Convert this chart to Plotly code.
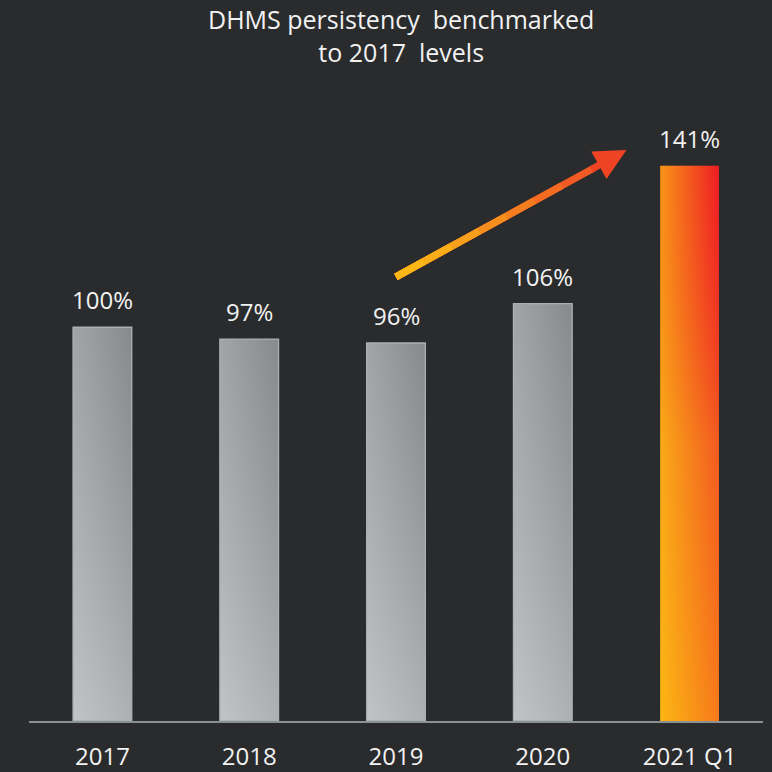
import plotly.graph_objects as go

# data
categories = ["2017", "2018", "2019", "2020", "2021 Q1"]
values = [100, 97, 96, 106, 141]
labels = ["100%", "97%", "96%", "106%", "141%"]
title = "DHMS persistency  benchmarked<br>to 2017  levels"

BG = "#2a2b2d"
TXT = "#f2f2f2"
FONT = "Open Sans, Noto Sans, sans-serif"
BAR_W = 0.4

# bars get a diagonal-looking gradient: horizontal base + vertical tinted overlay
GRAY_H = [[0, "#c0c4c5"], [1, "#878a8c"]]
GRAY_V = [[0, "rgba(192,196,197,0.67)"], [1, "rgba(135,138,140,0.53)"]]
HOT_H = [[0, "#fcb614"], [1, "#ee1c24"]]
HOT_V = [[0, "rgba(252,182,20,0.61)"], [0.5, "rgba(247,157,28,0.48)"],
         [1, "rgba(238,29,36,0.22)"]]

fig = go.Figure()

for i, (cat, v) in enumerate(zip(categories, values)):
    hot = i == len(values) - 1
    xs = [i - BAR_W / 2, i - BAR_W / 2, i + BAR_W / 2, i + BAR_W / 2, i - BAR_W / 2]
    ys = [0, v, v, 0, 0]
    fig.add_trace(go.Scatter(
        x=xs, y=ys, mode="lines", fill="toself",
        fillgradient=dict(type="horizontal", colorscale=HOT_H if hot else GRAY_H),
        line=dict(width=0),
        hoverinfo="skip", showlegend=False,
    ))
    fig.add_trace(go.Scatter(
        x=xs, y=ys, mode="lines", fill="toself",
        fillgradient=dict(type="vertical", colorscale=HOT_V if hot else GRAY_V),
        line=dict(width=0 if hot else 1.3, color="#aab0b1"),
        hoverinfo="skip", showlegend=False,
    ))
    fig.add_annotation(
        x=i, y=v, text=labels[i], showarrow=False, yanchor="bottom", yshift=9,
        font=dict(size=24, color=TXT, family=FONT),
    )

# growth arrow from 2019 towards 2021 Q1 (stepped colour ramp yellow -> red)
ax0, ay0, ax1, ay1 = 2.0, 112.8, 3.57, 145.0
dx, dy = ax1 - ax0, ay1 - ay0
ramp = [(0.86, "#f15a24"), (0.72, "#f36c21"), (0.6, "#f47d20"), (0.48, "#f68e1e"),
        (0.36, "#f89f1b"), (0.24, "#faad18"), (0.12, "#fcb615")]
for frac, col in ramp:
    fig.add_shape(
        type="line", xref="x", yref="y",
        x0=ax0, y0=ay0, x1=ax0 + dx * frac, y1=ay0 + dy * frac,
        line=dict(color=col, width=7),
    )
fig.add_annotation(
    x=ax1, y=ay1, ax=ax0 + dx * 0.84, ay=ay0 + dy * 0.84,
    xref="x", yref="y", axref="x", ayref="y",
    text="", showarrow=True, arrowhead=2, arrowsize=0.9, arrowwidth=7,
    arrowcolor="#ef4423",
)

fig.add_annotation(
    text=title, xref="paper", yref="paper", x=0.507, y=1.145,
    xanchor="center", yanchor="top", showarrow=False,
    font=dict(size=25, color=TXT, family=FONT),
)

fig.update_layout(
    width=772, height=772,
    paper_bgcolor=BG, plot_bgcolor=BG,
    margin=dict(l=29, r=9, t=91, b=51, autoexpand=False),
    font=dict(family=FONT, color=TXT, size=24),
    showlegend=False,
)
fig.update_xaxes(
    range=[-0.5, 4.5], tickmode="array", tickvals=list(range(len(categories))),
    ticktext=categories, showgrid=False, zeroline=False, automargin=False,
    showline=True, linecolor="#8a9191", linewidth=2,
    ticks="", ticklabelstandoff=13, tickfont=dict(size=24, color=TXT),
)
fig.update_yaxes(
    range=[0, 160], visible=False, showgrid=False, zeroline=False, automargin=False,
)

fig.write_html(
    "out.html",
    config={"displayModeBar": False},
    post_script="document.body.style.margin='0';document.body.style.background='#2a2b2d';",
)
